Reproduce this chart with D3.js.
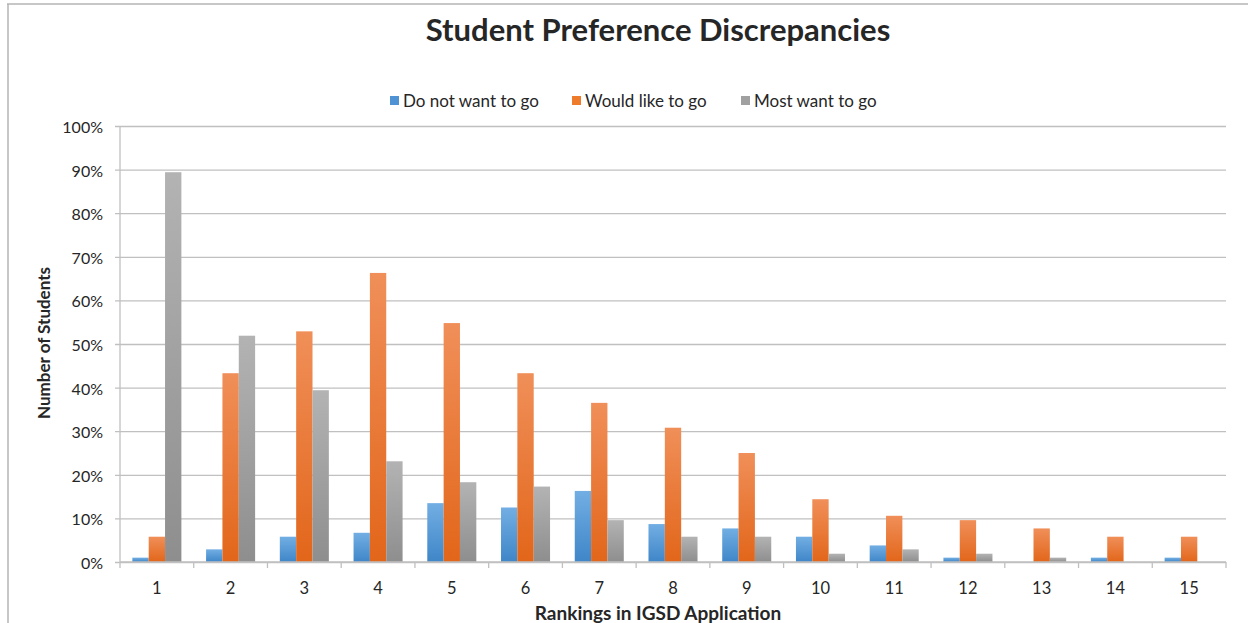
<!DOCTYPE html>
<html>
<head>
<meta charset="utf-8">
<script src="https://cdn.jsdelivr.net/npm/d3@7"></script>
<style>
  html, body { margin: 0; padding: 0; background: #fff; }
  svg { display: block; }
  text { font-family: Lato, "Open Sans", sans-serif; fill: #262626; }
</style>
</head>
<body>
<svg id="chart" width="1248" height="623"></svg>
<script>
const categories = ["1","2","3","4","5","6","7","8","9","10","11","12","13","14","15"];
const seriesNames = ["Do not want to go", "Would like to go", "Most want to go"];
const doNotWant = [1.0, 2.9, 5.8, 6.7, 13.5, 12.5, 16.3, 8.7, 7.7, 5.8, 3.8, 1.0, 0, 1.0, 1.0];
const wouldLike = [5.8, 43.3, 52.9, 66.3, 54.8, 43.3, 36.5, 30.8, 25.0, 14.4, 10.6, 9.6, 7.7, 5.8, 5.8];
const mostWant  = [89.4, 51.9, 39.4, 23.1, 18.3, 17.3, 9.6, 5.8, 5.8, 1.9, 2.9, 1.9, 1.0, 0, 0];
const yTicks = [0, 10, 20, 30, 40, 50, 60, 70, 80, 90, 100];

const seriesValues = [doNotWant, wouldLike, mostWant];
const colors = [
  {top: "#72aee3", bottom: "#3f86c8", legend: "#4f93d4"},
  {top: "#f08f59", bottom: "#e2661a", legend: "#ee7a2c"},
  {top: "#b3b3b3", bottom: "#8e8e8e", legend: "#a0a0a0"}
];

const svg = d3.select("#chart");
const margin = {left: 120, right: 1226, top: 126, bottom: 562};

// border
svg.append("line").attr("x1", 7).attr("x2", 1248).attr("y1", 4).attr("y2", 4)
  .attr("stroke", "#b5b5b5").attr("stroke-width", 1.5);
svg.append("line").attr("x1", 8).attr("x2", 8).attr("y1", 4).attr("y2", 623)
  .attr("stroke", "#b5b5b5").attr("stroke-width", 1.5);

const defs = svg.append("defs");
colors.forEach((c, i) => {
  const g = defs.append("linearGradient").attr("id", "grad" + i)
    .attr("x1", 0).attr("y1", 0).attr("x2", 0).attr("y2", 1);
  g.append("stop").attr("offset", "0%").attr("stop-color", c.top);
  g.append("stop").attr("offset", "100%").attr("stop-color", c.bottom);
});

const x0 = d3.scaleBand().domain(categories).range([margin.left, margin.right])
  .paddingInner(0.335).paddingOuter(0.1675);
const x1 = d3.scaleBand().domain(d3.range(3)).range([0, x0.bandwidth()]);
const y = d3.scaleLinear().domain([0, 100]).range([margin.bottom, margin.top]);

// gridlines + y axis
const yAxis = d3.axisLeft(y).tickValues(yTicks).tickFormat(d => d + "%")
  .tickSize(-(margin.right - margin.left + 5)).tickPadding(12);
const yg = svg.append("g").attr("transform", `translate(${margin.left - 5},0)`).call(yAxis);
yg.select(".domain").remove();
yg.selectAll(".tick line").attr("stroke", "#c0c0c0").attr("stroke-width", 1.3);
yg.selectAll(".tick text").attr("font-size", 16).attr("fill", "#262626")
  .attr("font-family", "Lato, 'Open Sans', sans-serif").attr("x", -12).attr("dy", "0.4em");

// y axis vertical line
svg.append("line").attr("x1", margin.left).attr("x2", margin.left)
  .attr("y1", margin.top).attr("y2", margin.bottom)
  .attr("stroke", "#c0c0c0").attr("stroke-width", 1.3);

// bars
categories.forEach((cat, ci) => {
  seriesValues.forEach((vals, si) => {
    const v = vals[ci];
    if (v <= 0) return;
    svg.append("rect")
      .attr("x", x0(cat) + x1(si))
      .attr("width", x1.bandwidth())
      .attr("y", y(v))
      .attr("height", y(0) - y(v))
      .attr("fill", `url(#grad${si})`);
  });
});

// x axis
const xg = svg.append("g").attr("transform", `translate(0,${margin.bottom})`);
xg.append("line").attr("x1", margin.left).attr("x2", margin.right)
  .attr("stroke", "#c0c0c0").attr("stroke-width", 1.3);
const boundaries = d3.range(categories.length + 1).map(i => margin.left + i * x0.step());
xg.selectAll(".xt").data(boundaries).enter().append("line")
  .attr("x1", d => d).attr("x2", d => d).attr("y1", 0).attr("y2", 6)
  .attr("stroke", "#c0c0c0").attr("stroke-width", 1.3);
xg.selectAll(".xl").data(categories).enter().append("text")
  .attr("x", d => x0(d) + x0.bandwidth() / 2)
  .attr("y", 32)
  .attr("text-anchor", "middle")
  .attr("font-size", 16.5)
  .text(d => d);

// title
svg.append("text").attr("x", 658).attr("y", 41).attr("text-anchor", "middle")
  .attr("font-size", 31).attr("font-weight", "bold").attr("fill", "#000")
  .text("Student Preference Discrepancies");

// legend
const legendX = [390, 572, 741];
seriesNames.forEach((name, i) => {
  svg.append("rect").attr("x", legendX[i]).attr("y", 96).attr("width", 9).attr("height", 9)
    .attr("fill", colors[i].legend);
  svg.append("text").attr("x", legendX[i] + 13).attr("y", 107)
    .attr("font-size", 17).text(name);
});

// axis titles
svg.append("text").attr("x", 658).attr("y", 620).attr("text-anchor", "middle")
  .attr("font-size", 19).attr("font-weight", "bold")
  .text("Rankings in IGSD Application");
svg.append("text").attr("transform", "translate(50,343) rotate(-90)")
  .attr("text-anchor", "middle").attr("font-size", 17).attr("font-weight", "bold")
  .text("Number of Students");
</script>
</body>
</html>
